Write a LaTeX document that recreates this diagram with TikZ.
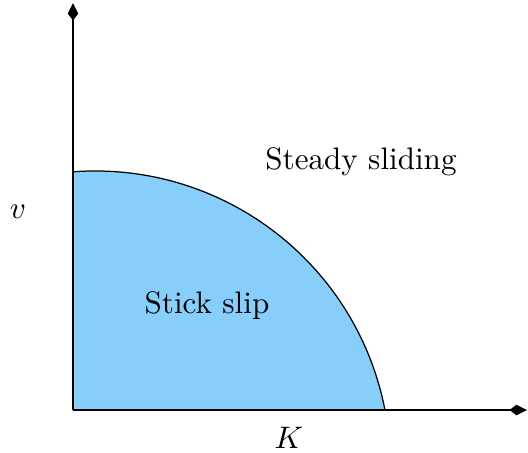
\documentclass[tikz,border=0pt]{standalone}
\usetikzlibrary{arrows.meta}
\definecolor{skyfill}{RGB}{135,206,250}
\begin{document}
\begin{tikzpicture}[x=0.3215pt,y=0.3215pt,
  axis/.style={line width=0.45pt,-{Kite[length=5.6pt,width=3.4pt,inset=2.2pt]}},
  lbl/.style={inner sep=0pt,font=\normalsize}]
\useasboundingbox (0,0) rectangle (528,452);
\coordinate (O) at (73,42);
\coordinate (ytop) at (73,449);
\coordinate (xend) at (527,42);
\coordinate (cstart) at (73,280.2);
\fill[skyfill] (O) -- (cstart) arc[start angle=94.27,end angle=11.0,radius=295.4] -- cycle;
\draw[line width=0.4pt] (cstart) arc[start angle=94.27,end angle=11.0,radius=295.4];
\draw[axis] (O) -- (ytop);
\draw[axis] (O) -- (xend);
\node[lbl] (steady) at (361,290) {Steady sliding};
\node[lbl] (stick) at (207,146) {Stick slip};
\node[lbl] (v) at (18,240) {$v$};
\node[lbl] (K) at (289,14) {$K$};
\end{tikzpicture}
\end{document}
